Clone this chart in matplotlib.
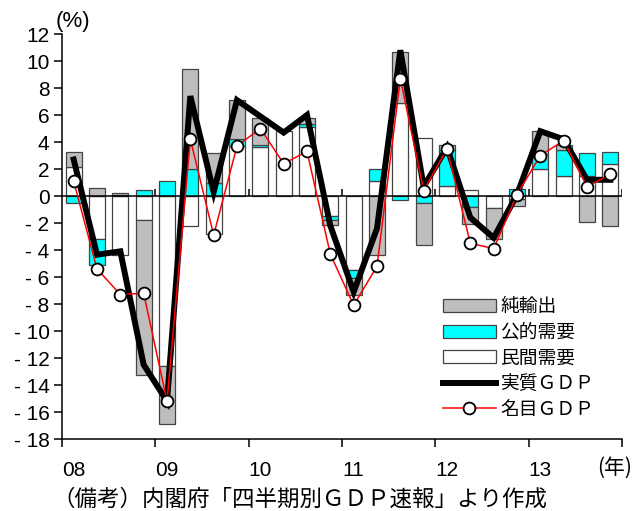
import numpy as np
import matplotlib
matplotlib.use("Agg")
import matplotlib.pyplot as plt
from matplotlib.lines import Line2D
from matplotlib.patches import Patch

# Quarterly contributions to GDP growth (annualised, %), 2008Q1-2013Q4
years = ["08", "09", "10", "11", "12", "13"]
private_demand = [2.15, -3.2, -4.35, -1.8, -12.6, -2.2, -2.85, 3.7, 3.65, 4.8, 5.1, -1.5,
                  -5.5, 1.1, 6.9, 4.3, 0.75, 0.45, -0.9, -0.25, 2.0, 1.5, 1.5, 2.4]
public_demand = [-0.5, -1.9, 0.1, 0.45, 1.1, 2.0, 1.0, 0.55, 0.15, 0.0, 0.2, -0.25,
                 -0.55, 0.9, -0.3, -0.55, 2.65, -0.8, 0.0, 0.55, 1.1, 1.9, 1.65, 0.85]
net_exports = [1.14, 0.6, 0.1, -11.45, -4.3, 7.4, 2.15, 2.85, 2.0, 0.0, 0.5, -0.4,
               -1.25, -4.35, 3.8, -3.05, 0.35, -1.25, -2.3, -0.5, 1.7, 0.4, -1.95, -2.2]
real_gdp = [2.7, -4.35, -4.1, -12.5, -15.2, 7.4, 0.3, 7.1, 5.9, 4.7, 6.0, -2.2,
            -7.1, -2.4, 10.8, 0.7, 3.6, -1.6, -3.1, 0.1, 4.8, 4.2, 1.2, 1.2]
nominal_gdp = [1.1, -5.4, -7.3, -7.2, -15.2, 4.2, -2.9, 3.7, 5.0, 2.4, 3.3, -4.3,
               -8.1, -5.2, 8.7, 0.4, 3.5, -3.5, -3.9, 0.1, 3.0, 4.1, 0.7, 1.6]

y_ticks = list(range(-18, 13, 2))
y_labels = [str(v) if v >= 0 else "- " + str(-v) for v in y_ticks]

LATIN = "Liberation Sans"
CJK = ["Noto Sans CJK JP", "DejaVu Sans"]
plt.rcParams["font.family"] = [LATIN, "Noto Sans CJK JP", "DejaVu Sans"]

W, H = 634, 511
fig = plt.figure(figsize=(W / 100, H / 100), dpi=100)
ax = fig.add_axes([62 / W, 1 - 439 / H, (622 - 62) / W, (439 - 34) / H])

n = len(real_gdp)
x = np.arange(n) + 0.5
width = 0.68

series = [(private_demand, "white"), (public_demand, "#00FFFF"), (net_exports, "#BEBEBE")]
pos_base = np.zeros(n)
neg_base = np.zeros(n)
for vals, col in series:
    v = np.array(vals, dtype=float)
    pos = np.where(v > 0, v, 0.0)
    neg = np.where(v < 0, v, 0.0)
    mpos = v > 0
    mneg = v < 0
    ax.bar(x[mpos], pos[mpos], width, bottom=pos_base[mpos], color=col,
           edgecolor="#444444", linewidth=0.9, zorder=2)
    ax.bar(x[mneg], neg[mneg], width, bottom=neg_base[mneg], color=col,
           edgecolor="#444444", linewidth=0.9, zorder=2)
    pos_base += pos
    neg_base += neg

ax.axhline(0, color="black", lw=1.1, zorder=3)
ax.vlines(np.arange(4, n + 1, 4), 0, 0.5, color="black", lw=1.1, zorder=3)

ax.plot(x, real_gdp, color="black", lw=4.3, solid_joinstyle="miter", zorder=4)
ax.plot(x, nominal_gdp, color="red", lw=1.1, marker="o", markersize=8.5,
        markerfacecolor="white", markeredgecolor="black", markeredgewidth=1.3, zorder=5)

ax.set_xlim(0, n)
ax.set_ylim(-18, 12)
ax.set_yticks(y_ticks)
ax.set_yticklabels(y_labels, fontsize=15, family=LATIN)
ax.tick_params(axis="y", direction="out", length=6, width=1.1, pad=3)

ax.set_xticks(np.arange(0, n, 4) + 0.5)
ax.set_xticklabels(years, fontsize=15, family=LATIN)
ax.tick_params(axis="x", which="major", length=0, pad=16)
ax.set_xticks(np.arange(0, n + 1, 4), minor=True)
ax.tick_params(axis="x", which="minor", direction="out", length=6, width=1.1)

for s in ["top", "right"]:
    ax.spines[s].set_visible(False)
for s in ["left", "bottom"]:
    ax.spines[s].set_linewidth(1.1)

fig.text(73 / W, 1 - 21 / H, "(%)", fontsize=16, family=LATIN, ha="center", va="center")
fig.text(615 / W, 1 - 468 / H, "(年)", fontsize=15, family=CJK, ha="center", va="center")
fig.text(52 / W, 1 - 499 / H, "（備考）内閣府「四半期別ＧＤＰ速報」より作成",
         fontsize=16.2, family=CJK, ha="left", va="center")

handles = [
    Patch(facecolor="#BEBEBE", edgecolor="#444444", linewidth=0.9),
    Patch(facecolor="#00FFFF", edgecolor="#444444", linewidth=0.9),
    Patch(facecolor="white", edgecolor="#444444", linewidth=0.9),
    Line2D([], [], color="black", lw=4.3),
    Line2D([], [], color="red", lw=1.1, marker="o", markersize=8.5,
           markerfacecolor="white", markeredgecolor="black", markeredgewidth=1.3),
]
labels = ["純輸出", "公的需要", "民間需要", "実質ＧＤＰ", "名目ＧＤＰ"]
leg = fig.legend(handles, labels, loc="upper left", bbox_to_anchor=(428 / W, 1 - 281 / H),
                 frameon=False, prop={"family": CJK, "size": 13.5}, handlelength=2.8,
                 handletextpad=0.25, labelspacing=0.25, borderpad=0.3)

fig.savefig("out.png", dpi=100)
